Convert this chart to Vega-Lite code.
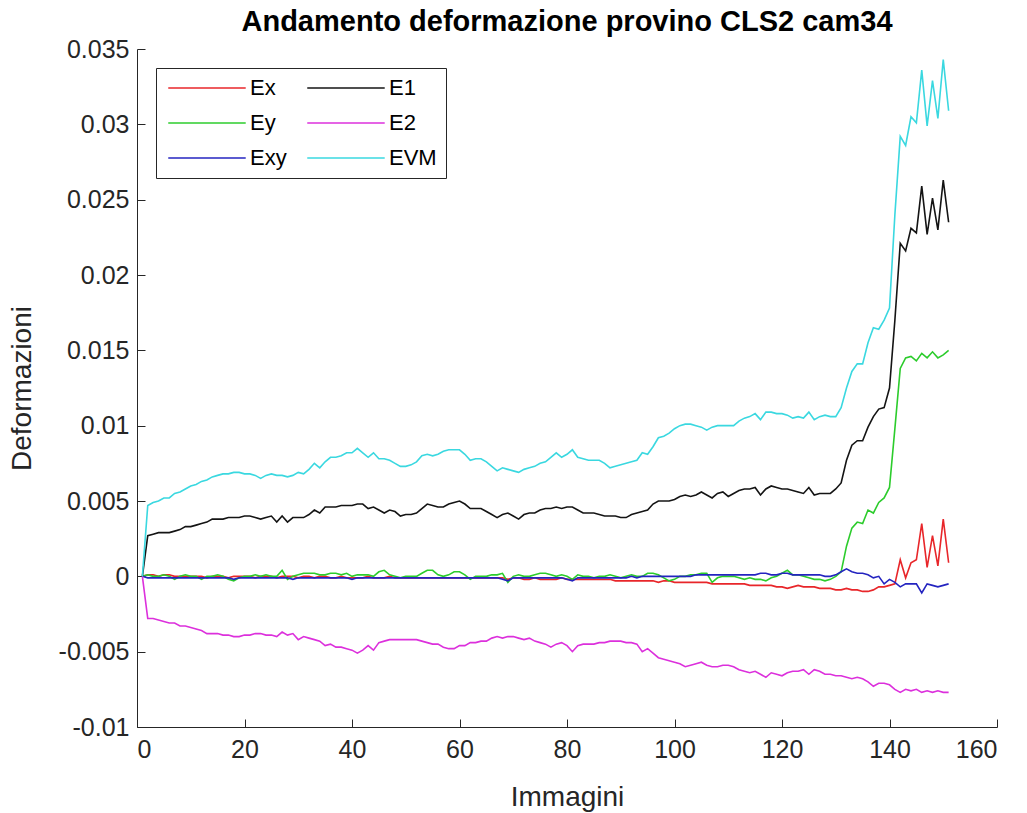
{
  "$schema": "https://vega.github.io/schema/vega-lite/v6.json",
  "width": 860,
  "height": 678,
  "autosize": {"type": "none"},
  "padding": {"left": 137, "top": 49, "right": 30, "bottom": 86},
  "background": "white",
  "title": {
    "text": "Andamento deformazione provino CLS2 cam34",
    "fontSize": 29,
    "fontWeight": "bold",
    "font": "Liberation Sans",
    "color": "#000000",
    "anchor": "middle",
    "offset": 0
  },
  "data": {
    "values": [
      {"i":1,"Ex":0,"Ey":0,"Exy":0,"E1":0,"E2":0,"EVM":0},
      {"i":2,"Ex":0.0001,"Ey":0.0001,"Exy":-0.0001,"E1":0.0027,"E2":-0.0028,"EVM":0.0047},
      {"i":3,"Ex":0.0001,"Ey":0,"Exy":-0.0001,"E1":0.0028,"E2":-0.0028,"EVM":0.0049},
      {"i":4,"Ex":0,"Ey":0,"Exy":-0.0001,"E1":0.0029,"E2":-0.0029,"EVM":0.0050},
      {"i":5,"Ex":0.0001,"Ey":0.0001,"Exy":-0.0001,"E1":0.0029,"E2":-0.0030,"EVM":0.0052},
      {"i":6,"Ex":0.0001,"Ey":0,"Exy":-0.0001,"E1":0.0029,"E2":-0.0031,"EVM":0.0052},
      {"i":7,"Ex":0,"Ey":-0.0002,"Exy":-0.0001,"E1":0.0030,"E2":-0.0031,"EVM":0.0055},
      {"i":8,"Ex":0,"Ey":0,"Exy":-0.0001,"E1":0.0031,"E2":-0.0033,"EVM":0.0056},
      {"i":9,"Ex":0,"Ey":0.0001,"Exy":-0.0001,"E1":0.0033,"E2":-0.0033,"EVM":0.0058},
      {"i":10,"Ex":0,"Ey":0,"Exy":-0.0001,"E1":0.0033,"E2":-0.0034,"EVM":0.0060},
      {"i":11,"Ex":0,"Ey":0,"Exy":-0.0001,"E1":0.0034,"E2":-0.0035,"EVM":0.0061},
      {"i":12,"Ex":0,"Ey":-0.0002,"Exy":-0.0001,"E1":0.0035,"E2":-0.0036,"EVM":0.0063},
      {"i":13,"Ex":-0.0001,"Ey":0,"Exy":-0.0001,"E1":0.0036,"E2":-0.0038,"EVM":0.0064},
      {"i":14,"Ex":0,"Ey":0,"Exy":-0.0001,"E1":0.0038,"E2":-0.0038,"EVM":0.0066},
      {"i":15,"Ex":0,"Ey":0.0001,"Exy":-0.0001,"E1":0.0038,"E2":-0.0038,"EVM":0.0067},
      {"i":16,"Ex":0,"Ey":0,"Exy":-0.0001,"E1":0.0038,"E2":-0.0039,"EVM":0.0068},
      {"i":17,"Ex":-0.0001,"Ey":-0.0002,"Exy":-0.0001,"E1":0.0039,"E2":-0.0039,"EVM":0.0068},
      {"i":18,"Ex":0,"Ey":-0.0003,"Exy":-0.0002,"E1":0.0039,"E2":-0.0040,"EVM":0.0069},
      {"i":19,"Ex":0,"Ey":-0.0001,"Exy":-0.0001,"E1":0.0039,"E2":-0.0040,"EVM":0.0069},
      {"i":20,"Ex":0,"Ey":0,"Exy":-0.0001,"E1":0.0040,"E2":-0.0039,"EVM":0.0068},
      {"i":21,"Ex":0,"Ey":0,"Exy":-0.0001,"E1":0.0040,"E2":-0.0039,"EVM":0.0068},
      {"i":22,"Ex":-0.0001,"Ey":0.0001,"Exy":-0.0001,"E1":0.0039,"E2":-0.0038,"EVM":0.0067},
      {"i":23,"Ex":0,"Ey":0,"Exy":-0.0001,"E1":0.0038,"E2":-0.0038,"EVM":0.0065},
      {"i":24,"Ex":0,"Ey":0.0001,"Exy":-0.0001,"E1":0.0039,"E2":-0.0039,"EVM":0.0067},
      {"i":25,"Ex":0,"Ey":0,"Exy":-0.0001,"E1":0.0040,"E2":-0.0039,"EVM":0.0068},
      {"i":26,"Ex":-0.0001,"Ey":0,"Exy":-0.0001,"E1":0.0036,"E2":-0.0040,"EVM":0.0067},
      {"i":27,"Ex":0,"Ey":0.0004,"Exy":-0.0001,"E1":0.0040,"E2":-0.0037,"EVM":0.0067},
      {"i":28,"Ex":0,"Ey":-0.0002,"Exy":-0.0001,"E1":0.0036,"E2":-0.0039,"EVM":0.0066},
      {"i":29,"Ex":0,"Ey":0,"Exy":-0.0002,"E1":0.0039,"E2":-0.0038,"EVM":0.0067},
      {"i":30,"Ex":-0.0001,"Ey":0.0001,"Exy":-0.0001,"E1":0.0039,"E2":-0.0042,"EVM":0.0069},
      {"i":31,"Ex":0,"Ey":0.0002,"Exy":-0.0001,"E1":0.0039,"E2":-0.0040,"EVM":0.0068},
      {"i":32,"Ex":0,"Ey":0.0002,"Exy":-0.0001,"E1":0.0041,"E2":-0.0041,"EVM":0.0071},
      {"i":33,"Ex":-0.0001,"Ey":0.0002,"Exy":-0.0001,"E1":0.0044,"E2":-0.0042,"EVM":0.0075},
      {"i":34,"Ex":0,"Ey":0.0001,"Exy":-0.0001,"E1":0.0042,"E2":-0.0043,"EVM":0.0072},
      {"i":35,"Ex":0,"Ey":0.0001,"Exy":-0.0001,"E1":0.0046,"E2":-0.0046,"EVM":0.0076},
      {"i":36,"Ex":-0.0001,"Ey":0.0002,"Exy":-0.0001,"E1":0.0046,"E2":-0.0045,"EVM":0.0079},
      {"i":37,"Ex":-0.0001,"Ey":0.0002,"Exy":-0.0001,"E1":0.0046,"E2":-0.0047,"EVM":0.0079},
      {"i":38,"Ex":0,"Ey":0.0001,"Exy":-0.0001,"E1":0.0047,"E2":-0.0047,"EVM":0.0080},
      {"i":39,"Ex":-0.0001,"Ey":0.0002,"Exy":-0.0001,"E1":0.0047,"E2":-0.0048,"EVM":0.0082},
      {"i":40,"Ex":-0.0001,"Ey":0,"Exy":-0.0002,"E1":0.0047,"E2":-0.0049,"EVM":0.0082},
      {"i":41,"Ex":-0.0001,"Ey":0.0001,"Exy":-0.0001,"E1":0.0048,"E2":-0.0051,"EVM":0.0085},
      {"i":42,"Ex":-0.0001,"Ey":0.0001,"Exy":-0.0001,"E1":0.0048,"E2":-0.0049,"EVM":0.0082},
      {"i":43,"Ex":0,"Ey":0.0001,"Exy":-0.0001,"E1":0.0045,"E2":-0.0046,"EVM":0.0079},
      {"i":44,"Ex":-0.0001,"Ey":0,"Exy":-0.0001,"E1":0.0046,"E2":-0.0049,"EVM":0.0082},
      {"i":45,"Ex":-0.0001,"Ey":0.0003,"Exy":-0.0001,"E1":0.0044,"E2":-0.0044,"EVM":0.0078},
      {"i":46,"Ex":-0.0001,"Ey":0.0004,"Exy":-0.0001,"E1":0.0042,"E2":-0.0043,"EVM":0.0078},
      {"i":47,"Ex":0,"Ey":0.0001,"Exy":-0.0001,"E1":0.0044,"E2":-0.0042,"EVM":0.0077},
      {"i":48,"Ex":-0.0001,"Ey":0,"Exy":-0.0001,"E1":0.0043,"E2":-0.0042,"EVM":0.0075},
      {"i":49,"Ex":-0.0001,"Ey":-0.0001,"Exy":-0.0001,"E1":0.0040,"E2":-0.0042,"EVM":0.0073},
      {"i":50,"Ex":-0.0001,"Ey":0,"Exy":-0.0001,"E1":0.0041,"E2":-0.0042,"EVM":0.0073},
      {"i":51,"Ex":-0.0001,"Ey":0,"Exy":-0.0001,"E1":0.0041,"E2":-0.0042,"EVM":0.0074},
      {"i":52,"Ex":-0.0001,"Ey":0,"Exy":-0.0001,"E1":0.0042,"E2":-0.0042,"EVM":0.0076},
      {"i":53,"Ex":-0.0001,"Ey":0.0002,"Exy":-0.0001,"E1":0.0045,"E2":-0.0043,"EVM":0.0080},
      {"i":54,"Ex":-0.0001,"Ey":0.0004,"Exy":-0.0001,"E1":0.0048,"E2":-0.0044,"EVM":0.0081},
      {"i":55,"Ex":-0.0001,"Ey":0.0004,"Exy":-0.0001,"E1":0.0047,"E2":-0.0045,"EVM":0.0080},
      {"i":56,"Ex":-0.0001,"Ey":0.0001,"Exy":-0.0001,"E1":0.0046,"E2":-0.0045,"EVM":0.0081},
      {"i":57,"Ex":-0.0001,"Ey":0,"Exy":-0.0001,"E1":0.0046,"E2":-0.0047,"EVM":0.0083},
      {"i":58,"Ex":-0.0001,"Ey":0.0001,"Exy":-0.0001,"E1":0.0048,"E2":-0.0048,"EVM":0.0084},
      {"i":59,"Ex":-0.0001,"Ey":0.0003,"Exy":-0.0001,"E1":0.0049,"E2":-0.0048,"EVM":0.0084},
      {"i":60,"Ex":-0.0001,"Ey":0.0003,"Exy":-0.0001,"E1":0.0050,"E2":-0.0046,"EVM":0.0084},
      {"i":61,"Ex":-0.0001,"Ey":0.0001,"Exy":-0.0001,"E1":0.0048,"E2":-0.0046,"EVM":0.0081},
      {"i":62,"Ex":-0.0001,"Ey":-0.0002,"Exy":-0.0001,"E1":0.0045,"E2":-0.0044,"EVM":0.0077},
      {"i":63,"Ex":-0.0001,"Ey":0,"Exy":-0.0001,"E1":0.0045,"E2":-0.0044,"EVM":0.0078},
      {"i":64,"Ex":-0.0001,"Ey":0,"Exy":-0.0001,"E1":0.0045,"E2":-0.0043,"EVM":0.0078},
      {"i":65,"Ex":-0.0001,"Ey":0,"Exy":-0.0001,"E1":0.0043,"E2":-0.0043,"EVM":0.0076},
      {"i":66,"Ex":-0.0001,"Ey":0.0001,"Exy":-0.0001,"E1":0.0041,"E2":-0.0041,"EVM":0.0073},
      {"i":67,"Ex":-0.0001,"Ey":0.0001,"Exy":-0.0001,"E1":0.0039,"E2":-0.0040,"EVM":0.0070},
      {"i":68,"Ex":-0.0001,"Ey":0.0002,"Exy":-0.0002,"E1":0.0041,"E2":-0.0041,"EVM":0.0072},
      {"i":69,"Ex":-0.0002,"Ey":-0.0004,"Exy":-0.0003,"E1":0.0042,"E2":-0.0040,"EVM":0.0071},
      {"i":70,"Ex":-0.0001,"Ey":0,"Exy":-0.0001,"E1":0.0040,"E2":-0.0040,"EVM":0.0070},
      {"i":71,"Ex":-0.0001,"Ey":0.0001,"Exy":-0.0001,"E1":0.0038,"E2":-0.0041,"EVM":0.0069},
      {"i":72,"Ex":-0.0002,"Ey":0,"Exy":-0.0001,"E1":0.0041,"E2":-0.0042,"EVM":0.0071},
      {"i":73,"Ex":-0.0002,"Ey":0,"Exy":-0.0001,"E1":0.0042,"E2":-0.0041,"EVM":0.0072},
      {"i":74,"Ex":-0.0001,"Ey":0.0001,"Exy":-0.0001,"E1":0.0042,"E2":-0.0043,"EVM":0.0073},
      {"i":75,"Ex":-0.0002,"Ey":0.0002,"Exy":-0.0001,"E1":0.0044,"E2":-0.0044,"EVM":0.0075},
      {"i":76,"Ex":-0.0002,"Ey":0.0002,"Exy":-0.0001,"E1":0.0045,"E2":-0.0045,"EVM":0.0076},
      {"i":77,"Ex":-0.0002,"Ey":0.0001,"Exy":-0.0001,"E1":0.0045,"E2":-0.0047,"EVM":0.0079},
      {"i":78,"Ex":-0.0002,"Ey":0,"Exy":-0.0001,"E1":0.0046,"E2":-0.0045,"EVM":0.0082},
      {"i":79,"Ex":-0.0001,"Ey":0.0001,"Exy":-0.0001,"E1":0.0045,"E2":-0.0044,"EVM":0.0079},
      {"i":80,"Ex":-0.0002,"Ey":0,"Exy":-0.0002,"E1":0.0046,"E2":-0.0046,"EVM":0.0081},
      {"i":81,"Ex":-0.0002,"Ey":-0.0002,"Exy":-0.0003,"E1":0.0046,"E2":-0.0050,"EVM":0.0084},
      {"i":82,"Ex":-0.0002,"Ey":0.0001,"Exy":-0.0001,"E1":0.0044,"E2":-0.0046,"EVM":0.0079},
      {"i":83,"Ex":-0.0002,"Ey":0,"Exy":-0.0001,"E1":0.0042,"E2":-0.0045,"EVM":0.0078},
      {"i":84,"Ex":-0.0002,"Ey":0,"Exy":-0.0001,"E1":0.0042,"E2":-0.0045,"EVM":0.0077},
      {"i":85,"Ex":-0.0002,"Ey":-0.0001,"Exy":-0.0001,"E1":0.0042,"E2":-0.0045,"EVM":0.0077},
      {"i":86,"Ex":-0.0002,"Ey":0,"Exy":-0.0001,"E1":0.0041,"E2":-0.0044,"EVM":0.0077},
      {"i":87,"Ex":-0.0002,"Ey":0,"Exy":-0.0001,"E1":0.0040,"E2":-0.0044,"EVM":0.0075},
      {"i":88,"Ex":-0.0002,"Ey":0.0001,"Exy":-0.0001,"E1":0.0040,"E2":-0.0043,"EVM":0.0072},
      {"i":89,"Ex":-0.0003,"Ey":0,"Exy":-0.0001,"E1":0.0040,"E2":-0.0043,"EVM":0.0073},
      {"i":90,"Ex":-0.0003,"Ey":-0.0001,"Exy":-0.0001,"E1":0.0039,"E2":-0.0043,"EVM":0.0074},
      {"i":91,"Ex":-0.0003,"Ey":0,"Exy":-0.0001,"E1":0.0039,"E2":-0.0044,"EVM":0.0075},
      {"i":92,"Ex":-0.0003,"Ey":0.0001,"Exy":0,"E1":0.0041,"E2":-0.0044,"EVM":0.0076},
      {"i":93,"Ex":-0.0003,"Ey":0,"Exy":-0.0001,"E1":0.0042,"E2":-0.0045,"EVM":0.0077},
      {"i":94,"Ex":-0.0003,"Ey":0,"Exy":0,"E1":0.0043,"E2":-0.0050,"EVM":0.0082},
      {"i":95,"Ex":-0.0003,"Ey":0.0002,"Exy":0,"E1":0.0044,"E2":-0.0048,"EVM":0.0081},
      {"i":96,"Ex":-0.0003,"Ey":0.0002,"Exy":0,"E1":0.0048,"E2":-0.0051,"EVM":0.0086},
      {"i":97,"Ex":-0.0004,"Ey":0.0001,"Exy":0,"E1":0.0050,"E2":-0.0054,"EVM":0.0092},
      {"i":98,"Ex":-0.0003,"Ey":-0.0001,"Exy":0,"E1":0.0050,"E2":-0.0055,"EVM":0.0093},
      {"i":99,"Ex":-0.0003,"Ey":-0.0003,"Exy":0,"E1":0.0050,"E2":-0.0056,"EVM":0.0095},
      {"i":100,"Ex":-0.0004,"Ey":-0.0002,"Exy":0,"E1":0.0051,"E2":-0.0057,"EVM":0.0098},
      {"i":101,"Ex":-0.0004,"Ey":0,"Exy":0,"E1":0.0053,"E2":-0.0058,"EVM":0.0100},
      {"i":102,"Ex":-0.0004,"Ey":0,"Exy":0,"E1":0.0054,"E2":-0.0060,"EVM":0.0101},
      {"i":103,"Ex":-0.0004,"Ey":0.0001,"Exy":0,"E1":0.0053,"E2":-0.0059,"EVM":0.0101},
      {"i":104,"Ex":-0.0004,"Ey":0.0001,"Exy":0.0001,"E1":0.0054,"E2":-0.0058,"EVM":0.0100},
      {"i":105,"Ex":-0.0004,"Ey":0.0002,"Exy":0.0001,"E1":0.0056,"E2":-0.0057,"EVM":0.0099},
      {"i":106,"Ex":-0.0004,"Ey":0.0002,"Exy":0.0001,"E1":0.0054,"E2":-0.0059,"EVM":0.0097},
      {"i":107,"Ex":-0.0005,"Ey":-0.0004,"Exy":0.0001,"E1":0.0052,"E2":-0.0060,"EVM":0.0099},
      {"i":108,"Ex":-0.0005,"Ey":-0.0001,"Exy":0.0001,"E1":0.0055,"E2":-0.0060,"EVM":0.0100},
      {"i":109,"Ex":-0.0005,"Ey":0,"Exy":0.0001,"E1":0.0056,"E2":-0.0059,"EVM":0.0100},
      {"i":110,"Ex":-0.0005,"Ey":0,"Exy":0.0001,"E1":0.0053,"E2":-0.0059,"EVM":0.0100},
      {"i":111,"Ex":-0.0005,"Ey":0,"Exy":0.0001,"E1":0.0055,"E2":-0.0060,"EVM":0.0100},
      {"i":112,"Ex":-0.0005,"Ey":-0.0001,"Exy":0.0001,"E1":0.0057,"E2":-0.0062,"EVM":0.0103},
      {"i":113,"Ex":-0.0005,"Ey":-0.0002,"Exy":0.0001,"E1":0.0058,"E2":-0.0063,"EVM":0.0105},
      {"i":114,"Ex":-0.0006,"Ey":-0.0001,"Exy":0.0001,"E1":0.0058,"E2":-0.0064,"EVM":0.0106},
      {"i":115,"Ex":-0.0006,"Ey":-0.0002,"Exy":0.0001,"E1":0.0059,"E2":-0.0063,"EVM":0.0108},
      {"i":116,"Ex":-0.0006,"Ey":-0.0002,"Exy":0.0002,"E1":0.0054,"E2":-0.0065,"EVM":0.0104},
      {"i":117,"Ex":-0.0006,"Ey":-0.0003,"Exy":0.0002,"E1":0.0058,"E2":-0.0067,"EVM":0.0109},
      {"i":118,"Ex":-0.0006,"Ey":-0.0001,"Exy":0.0001,"E1":0.0060,"E2":-0.0064,"EVM":0.0109},
      {"i":119,"Ex":-0.0007,"Ey":0,"Exy":0.0001,"E1":0.0059,"E2":-0.0065,"EVM":0.0108},
      {"i":120,"Ex":-0.0007,"Ey":0.0002,"Exy":0.0002,"E1":0.0058,"E2":-0.0066,"EVM":0.0108},
      {"i":121,"Ex":-0.0008,"Ey":0.0004,"Exy":0.0002,"E1":0.0058,"E2":-0.0064,"EVM":0.0107},
      {"i":122,"Ex":-0.0007,"Ey":0.0001,"Exy":0.0001,"E1":0.0057,"E2":-0.0063,"EVM":0.0105},
      {"i":123,"Ex":-0.0006,"Ey":0.0001,"Exy":0.0001,"E1":0.0056,"E2":-0.0063,"EVM":0.0106},
      {"i":124,"Ex":-0.0007,"Ey":0,"Exy":0.0001,"E1":0.0055,"E2":-0.0062,"EVM":0.0105},
      {"i":125,"Ex":-0.0007,"Ey":-0.0001,"Exy":0.0001,"E1":0.0059,"E2":-0.0065,"EVM":0.0109},
      {"i":126,"Ex":-0.0007,"Ey":-0.0002,"Exy":0.0001,"E1":0.0054,"E2":-0.0062,"EVM":0.0104},
      {"i":127,"Ex":-0.0008,"Ey":-0.0002,"Exy":0.0001,"E1":0.0055,"E2":-0.0063,"EVM":0.0106},
      {"i":128,"Ex":-0.0008,"Ey":-0.0003,"Exy":0,"E1":0.0055,"E2":-0.0065,"EVM":0.0107},
      {"i":129,"Ex":-0.0008,"Ey":-0.0002,"Exy":0,"E1":0.0055,"E2":-0.0065,"EVM":0.0106},
      {"i":130,"Ex":-0.0009,"Ey":0,"Exy":0.0001,"E1":0.0058,"E2":-0.0066,"EVM":0.0106},
      {"i":131,"Ex":-0.0009,"Ey":0.0003,"Exy":0.0003,"E1":0.0062,"E2":-0.0066,"EVM":0.0112},
      {"i":132,"Ex":-0.0008,"Ey":0.0020,"Exy":0.0005,"E1":0.0077,"E2":-0.0067,"EVM":0.0125},
      {"i":133,"Ex":-0.0009,"Ey":0.0032,"Exy":0.0003,"E1":0.0087,"E2":-0.0068,"EVM":0.0136},
      {"i":134,"Ex":-0.0009,"Ey":0.0036,"Exy":0.0002,"E1":0.0090,"E2":-0.0067,"EVM":0.0141},
      {"i":135,"Ex":-0.0010,"Ey":0.0035,"Exy":0.0002,"E1":0.0090,"E2":-0.0068,"EVM":0.0141},
      {"i":136,"Ex":-0.0010,"Ey":0.0044,"Exy":0.0001,"E1":0.0099,"E2":-0.0070,"EVM":0.0155},
      {"i":137,"Ex":-0.0009,"Ey":0.0042,"Exy":-0.0001,"E1":0.0106,"E2":-0.0073,"EVM":0.0165},
      {"i":138,"Ex":-0.0007,"Ey":0.0049,"Exy":0,"E1":0.0111,"E2":-0.0071,"EVM":0.0164},
      {"i":139,"Ex":-0.0007,"Ey":0.0052,"Exy":-0.0005,"E1":0.0112,"E2":-0.0071,"EVM":0.0170},
      {"i":140,"Ex":-0.0006,"Ey":0.0059,"Exy":-0.0002,"E1":0.0125,"E2":-0.0072,"EVM":0.0178},
      {"i":141,"Ex":-0.0005,"Ey":0.0098,"Exy":-0.0004,"E1":0.0170,"E2":-0.0075,"EVM":0.0240},
      {"i":142,"Ex":0.0011,"Ey":0.0138,"Exy":-0.0007,"E1":0.0221,"E2":-0.0077,"EVM":0.0292},
      {"i":143,"Ex":-0.0001,"Ey":0.0145,"Exy":-0.0005,"E1":0.0216,"E2":-0.0075,"EVM":0.0286},
      {"i":144,"Ex":0.0009,"Ey":0.0146,"Exy":-0.0005,"E1":0.0231,"E2":-0.0076,"EVM":0.0305},
      {"i":145,"Ex":0.0011,"Ey":0.0143,"Exy":-0.0005,"E1":0.0228,"E2":-0.0075,"EVM":0.0301},
      {"i":146,"Ex":0.0035,"Ey":0.0148,"Exy":-0.0011,"E1":0.0259,"E2":-0.0077,"EVM":0.0336},
      {"i":147,"Ex":0.0006,"Ey":0.0145,"Exy":-0.0005,"E1":0.0227,"E2":-0.0076,"EVM":0.0299},
      {"i":148,"Ex":0.0027,"Ey":0.0149,"Exy":-0.0006,"E1":0.0251,"E2":-0.0077,"EVM":0.0329},
      {"i":149,"Ex":0.0007,"Ey":0.0145,"Exy":-0.0007,"E1":0.0230,"E2":-0.0076,"EVM":0.0304},
      {"i":150,"Ex":0.0038,"Ey":0.0147,"Exy":-0.0006,"E1":0.0263,"E2":-0.0077,"EVM":0.0343},
      {"i":151,"Ex":0.0009,"Ey":0.0150,"Exy":-0.0005,"E1":0.0235,"E2":-0.0077,"EVM":0.0309}
    ]
  },
  "transform": [
    {"fold": ["Ex", "Ey", "Exy", "E1", "E2", "EVM"], "as": ["serie", "valore"]}
  ],
  "mark": {"type": "line", "strokeWidth": 1.6, "interpolate": "linear"},
  "encoding": {
    "x": {
      "field": "i",
      "type": "quantitative",
      "scale": {"domain": [0, 160], "nice": false, "zero": false},
      "axis": {
        "title": "Immagini",
        "values": [0, 20, 40, 60, 80, 100, 120, 140, 160],
        "labelPadding": 18,
        "titlePadding": 21
      }
    },
    "y": {
      "field": "valore",
      "type": "quantitative",
      "scale": {"domain": [-0.01, 0.035], "nice": false, "zero": false},
      "axis": {
        "title": "Deformazioni",
        "values": [-0.01, -0.005, 0, 0.005, 0.01, 0.015, 0.02, 0.025, 0.03, 0.035],
        "labelExpr": "replace(format(datum.value, '~g'), '\u2212', '-')",
        "labelPadding": 16,
        "titlePadding": 22
      }
    },
    "color": {
      "field": "serie",
      "type": "nominal",
      "scale": {
        "domain": ["Ex", "Ey", "Exy", "E1", "E2", "EVM"],
        "range": ["#e8262a", "#2ccc2c", "#2424c0", "#141414", "#dc30dc", "#3ad8e0"]
      },
      "legend": {
        "title": null,
        "orient": "top-left",
        "offset": 19,
        "columns": 2,
        "symbolType": "M-1,0H9",
        "symbolSize": 240,
        "symbolStrokeWidth": 1.5,
        "labelFontSize": 22,
        "labelFont": "Liberation Sans",
        "labelColor": "#000000",
        "labelOffset": 63,
        "strokeColor": "#262626",
        "fillColor": "#ffffff",
        "padding": 9,
        "columnPadding": 17,
        "rowPadding": 13
      }
    }
  },
  "config": {
    "view": {"stroke": null},
    "font": "Liberation Sans",
    "axis": {
      "grid": false,
      "domainColor": "#262626",
      "domainWidth": 1,
      "tickColor": "#262626",
      "tickSize": -8,
      "labelFont": "Liberation Sans",
      "labelFontSize": 25,
      "labelColor": "#262626",
      "titleFont": "Liberation Sans",
      "titleFontSize": 28,
      "titleFontWeight": "normal",
      "titleColor": "#262626"
    }
  }
}
